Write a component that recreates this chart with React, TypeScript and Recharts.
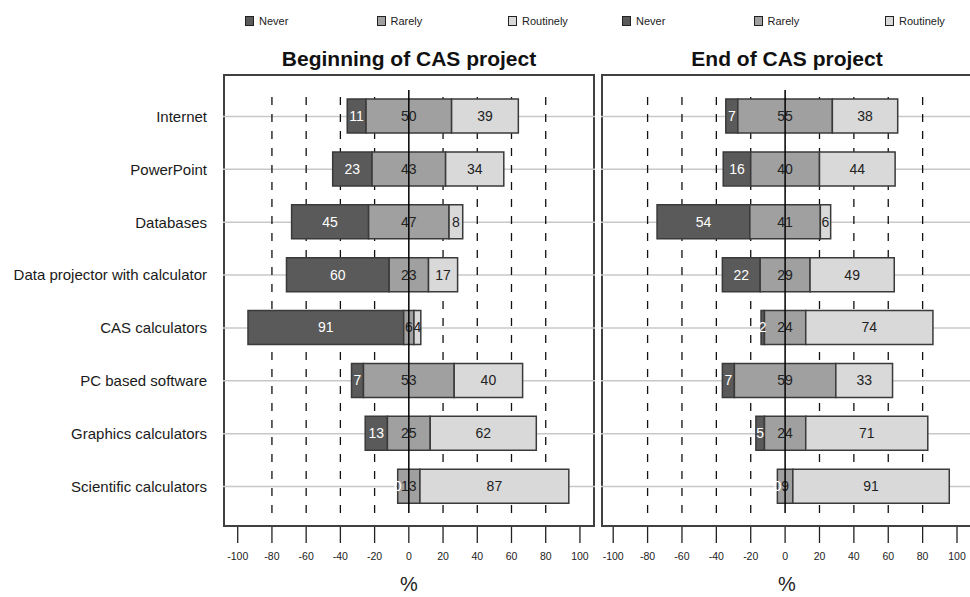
import React from "react";
import { BarChart, Bar, XAxis, YAxis, ReferenceLine, LabelList, Legend } from "recharts";

const CATEGORIES = [
  "Internet",
  "PowerPoint",
  "Databases",
  "Data projector with calculator",
  "CAS calculators",
  "PC based software",
  "Graphics calculators",
  "Scientific calculators",
];

const BEGIN_NEVER     = [11, 23, 45, 60, 91, 7, 13, 0];
const BEGIN_RARELY    = [50, 43, 47, 23, 6, 53, 25, 13];
const BEGIN_ROUTINELY = [39, 34, 8, 17, 4, 40, 62, 87];

const END_NEVER     = [7, 16, 54, 22, 2, 7, 5, 0];
const END_RARELY    = [55, 40, 41, 29, 24, 59, 24, 9];
const END_ROUTINELY = [38, 44, 6, 49, 74, 33, 71, 91];

const X_TICKS = [-100, -80, -60, -40, -20, 0, 20, 40, 60, 80, 100];
const DASHED_X = [-80, -60, -40, -20, 20, 40, 60, 80];

const COLORS = { never: "#5a5a5a", rarely: "#a0a0a0", routinely: "#d9d9d9" };
const FONT = "'Liberation Sans', Arial, sans-serif";
const LABEL_SIZE = 14;

// rarely is split around 0, never sits on the left, routinely on the right
function buildRows(never: number[], rarely: number[], routinely: number[]) {
  return CATEGORIES.map((name, i) => ({
    name,
    offset: -(never[i] + rarely[i] / 2),
    never: never[i],
    rarely: rarely[i],
    routinely: routinely[i],
  }));
}

const beginRows = buildRows(BEGIN_NEVER, BEGIN_RARELY, BEGIN_ROUTINELY);
const endRows = buildRows(END_NEVER, END_RARELY, END_ROUTINELY);

const XTick = (props: any) => {
  const { x, y, payload } = props;
  return (
    <g>
      <line x1={x} x2={x} y1={y + 14} y2={y + 30} stroke="#222" strokeWidth={1.3} />
      <text x={x} y={y + 47} textAnchor="middle" fontSize={10.5} fill="#222" fontFamily={FONT}>
        {payload.value}
      </text>
    </g>
  );
};

// zero-width "never" segments get no rect, so their "0" is hung on the spacer's end
const ZeroNeverLabel = (props: any) => {
  const { x, y, width, height, value } = props;
  if (value !== 0) return null;
  const end = Math.min(Number(x), Number(x) + Number(width));
  return (
    <text x={end} y={Number(y) + Number(height) / 2} dy={5} textAnchor="middle" fontSize={LABEL_SIZE} fill="#fff" fontFamily={FONT}>
      0
    </text>
  );
};

const renderLegend = (props: any) => (
  <div style={{ display: "flex", fontFamily: FONT }}>
    {(props.payload || [])
      .filter((p: any) => p.type !== "none" && p.dataKey !== "offset")
      .map((p: any) => (
        <div key={p.value} style={{ width: 131.5, display: "flex", alignItems: "center", fontSize: 11, color: "#222" }}>
          <span
            style={{
              display: "inline-block",
              width: 7,
              height: 8,
              background: p.color,
              border: "1px solid #222",
              marginRight: 5,
            }}
          />
          {p.value}
        </div>
      ))}
  </div>
);

type PanelProps = {
  data: any[];
  title: string;
  left: number;
  width: number;
  axisWidth: number;
  domain: [number, number];
  legendLeft: number;
};

function Panel({ data, title, left, width, axisWidth, domain, legendLeft }: PanelProps) {
  const plotWidth = width - axisWidth;
  return (
    <>
      <div
        style={{
          position: "absolute",
          left: left + axisWidth,
          top: 74,
          width: plotWidth,
          height: 453,
          border: "2px solid #404040",
          boxSizing: "border-box",
        }}
      />
      <div
        style={{
          position: "absolute",
          left: left + axisWidth,
          top: 47,
          width: plotWidth,
          textAlign: "center",
          fontSize: 21,
          lineHeight: "24px",
          fontWeight: "bold",
          color: "#111",
          fontFamily: FONT,
        }}
      >
        {title}
      </div>
      <div style={{ position: "absolute", left, top: 0 }}>
        <BarChart
          width={width}
          height={597}
          data={data}
          layout="vertical"
          barSize={34}
          margin={{ top: 90, right: 0, bottom: 0, left: 0 }}
        >
          <XAxis
            type="number"
            domain={domain}
            ticks={X_TICKS}
            allowDataOverflow
            height={84}
            axisLine={false}
            tickLine={false}
            tickSize={0}
            tickMargin={0}
            tick={<XTick />}
            interval={0}
            label={{ value: "%", position: "insideBottom", offset: 6, fontSize: 20, fill: "#222", fontFamily: FONT }}
          />
          <YAxis
            type="category"
            dataKey="name"
            width={axisWidth}
            hide={axisWidth === 0}
            axisLine={false}
            tickLine={false}
            tickSize={0}
            tickMargin={16}
            interval={0}
            tick={{ fontSize: 15, fill: "#1a1a1a", fontFamily: FONT }}
          />
          {CATEGORIES.map((c) => (
            <ReferenceLine key={c} y={c} stroke="#c8c8c8" strokeWidth={1.5} zIndex={-80} />
          ))}
          {DASHED_X.map((v) => (
            <ReferenceLine key={v} x={v} stroke="#111" strokeWidth={1.3} strokeDasharray="8 9" zIndex={-70} />
          ))}
          <Legend
            layout="horizontal"
            verticalAlign="middle"
            align="center"
            content={renderLegend}
            wrapperStyle={{ top: 15, left: legendLeft, width: 400, height: 14 }}
          />
          <Bar dataKey="offset" stackId="s" fill="transparent" legendType="none" isAnimationActive={false}>
            <LabelList dataKey="never" content={<ZeroNeverLabel />} />
          </Bar>
          <Bar dataKey="never" name="Never" stackId="s" fill={COLORS.never} stroke="#3a3a3a" strokeWidth={1.5} isAnimationActive={false}>
            <LabelList dataKey="never" position="center" fill="#fff" fontSize={LABEL_SIZE} fontFamily={FONT} />
          </Bar>
          <Bar dataKey="rarely" name="Rarely" stackId="s" fill={COLORS.rarely} stroke="#3a3a3a" strokeWidth={1.5} isAnimationActive={false}>
            <LabelList dataKey="rarely" position="center" fill="#222" fontSize={LABEL_SIZE} fontFamily={FONT} />
          </Bar>
          <Bar dataKey="routinely" name="Routinely" stackId="s" fill={COLORS.routinely} stroke="#3a3a3a" strokeWidth={1.5} isAnimationActive={false}>
            <LabelList dataKey="routinely" position="center" fill="#222" fontSize={LABEL_SIZE} fontFamily={FONT} />
          </Bar>
          <ReferenceLine x={0} stroke="#000" strokeWidth={1.5} zIndex={2500} />
        </BarChart>
      </div>
    </>
  );
}

export default function App() {
  return (
    <div
      style={{
        position: "absolute",
        left: 0,
        top: 0,
        width: 970,
        height: 597,
        overflow: "hidden",
        background: "#fff",
        fontFamily: FONT,
      }}
    >
      <Panel
        data={beginRows}
        title="Beginning of CAS project"
        left={0}
        width={595}
        axisWidth={223}
        domain={[-108.6, 108.8]}
        legendLeft={245}
      />
      <Panel
        data={endRows}
        title="End of CAS project"
        left={601}
        width={372}
        axisWidth={0}
        domain={[-107.1, 109.3]}
        legendLeft={21}
      />
    </div>
  );
}
